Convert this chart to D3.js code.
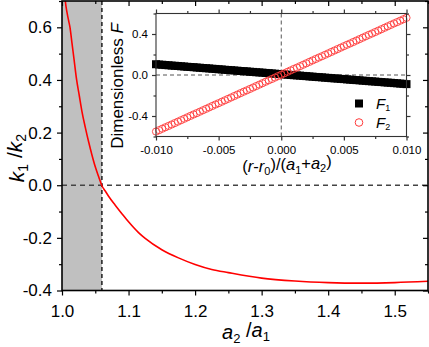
<!DOCTYPE html>
<html>
<head>
<meta charset="utf-8">
<script src="https://cdn.jsdelivr.net/npm/d3@7"></script>
<style>
  body { margin: 0; background: #fff; }
  svg { display: block; font-family: "Liberation Sans", Arial, sans-serif; }
</style>
</head>
<body>
<div id="chart"></div>
<script>
const width = 429;
const height = 347;

// main curve: k1/k2 against a2/a1
const ratio = [1.004, 1.006, 1.008, 1.010, 1.012, 1.015, 1.018, 1.022, 1.026, 1.030,
  1.035, 1.040, 1.045, 1.050, 1.055, 1.060, 1.065, 1.070, 1.080, 1.090, 1.100,
  1.115, 1.125, 1.150, 1.175, 1.200, 1.225, 1.250, 1.300, 1.350, 1.400, 1.450, 1.500, 1.550];
const kRatio = [0.72, 0.68, 0.65, 0.625, 0.60, 0.54, 0.48, 0.40, 0.34, 0.28,
  0.22, 0.165, 0.115, 0.07, 0.033, -0.002, -0.022, -0.042, -0.076, -0.108, -0.139,
  -0.180, -0.202, -0.245, -0.276, -0.301, -0.320, -0.332, -0.353, -0.364, -0.370, -0.372, -0.370, -0.365];
const shadeLimit = 1.06;

// inset: dimensionless forces against (r-r0)/(a1+a2)
const dr = [-0.01000, -0.00975, -0.00950, -0.00925, -0.00900, -0.00875, -0.00850, -0.00825, -0.00800, -0.00775,
  -0.00750, -0.00725, -0.00700, -0.00675, -0.00650, -0.00625, -0.00600, -0.00575, -0.00550, -0.00525,
  -0.00500, -0.00475, -0.00450, -0.00425, -0.00400, -0.00375, -0.00350, -0.00325, -0.00300, -0.00275,
  -0.00250, -0.00225, -0.00200, -0.00175, -0.00150, -0.00125, -0.00100, -0.00075, -0.00050, -0.00025,
  0.00000, 0.00025, 0.00050, 0.00075, 0.00100, 0.00125, 0.00150, 0.00175, 0.00200, 0.00225,
  0.00250, 0.00275, 0.00300, 0.00325, 0.00350, 0.00375, 0.00400, 0.00425, 0.00450, 0.00475,
  0.00500, 0.00525, 0.00550, 0.00575, 0.00600, 0.00625, 0.00650, 0.00675, 0.00700, 0.00725,
  0.00750, 0.00775, 0.00800, 0.00825, 0.00850, 0.00875, 0.00900, 0.00925, 0.00950, 0.00975, 0.01000];
const F1 = [0.105, 0.102, 0.100, 0.097, 0.095, 0.092, 0.090, 0.088, 0.085, 0.083,
  0.080, 0.078, 0.076, 0.073, 0.071, 0.068, 0.066, 0.064, 0.061, 0.059,
  0.056, 0.054, 0.051, 0.049, 0.047, 0.044, 0.042, 0.039, 0.037, 0.035,
  0.032, 0.030, 0.027, 0.025, 0.023, 0.020, 0.018, 0.015, 0.013, 0.010,
  0.008, 0.006, 0.003, 0.001, -0.002, -0.004, -0.006, -0.009, -0.011, -0.014,
  -0.016, -0.019, -0.021, -0.023, -0.026, -0.028, -0.031, -0.033, -0.035, -0.038,
  -0.040, -0.043, -0.045, -0.048, -0.050, -0.052, -0.055, -0.057, -0.060, -0.062,
  -0.064, -0.067, -0.069, -0.072, -0.074, -0.076, -0.079, -0.081, -0.084, -0.086, -0.089];
const F2 = [-0.552, -0.538, -0.524, -0.510, -0.497, -0.483, -0.469, -0.455, -0.441, -0.427,
  -0.413, -0.399, -0.385, -0.372, -0.358, -0.344, -0.330, -0.316, -0.302, -0.288,
  -0.275, -0.261, -0.247, -0.233, -0.219, -0.205, -0.191, -0.177, -0.163, -0.150,
  -0.136, -0.122, -0.108, -0.094, -0.080, -0.066, -0.052, -0.039, -0.025, -0.011,
  0.003, 0.017, 0.031, 0.045, 0.059, 0.072, 0.086, 0.100, 0.114, 0.128,
  0.142, 0.156, 0.170, 0.183, 0.197, 0.211, 0.225, 0.239, 0.253, 0.267,
  0.281, 0.295, 0.308, 0.322, 0.336, 0.350, 0.364, 0.378, 0.392, 0.405,
  0.419, 0.433, 0.447, 0.461, 0.475, 0.489, 0.503, 0.516, 0.530, 0.544, 0.558];

// tick values
const xMajor = [1.0, 1.1, 1.2, 1.3, 1.4, 1.5];
const xMinor = [1.05, 1.15, 1.25, 1.35, 1.45, 1.55];
const yMajor = [-0.4, -0.2, 0.0, 0.2, 0.4, 0.6];
const yMinor = [-0.3, -0.1, 0.1, 0.3, 0.5, 0.7];
const ixMajor = [-0.010, -0.005, 0.000, 0.005, 0.010];
const ixMinor = [-0.0075, -0.0025, 0.0025, 0.0075];
const iyMajor = [-0.4, 0.0, 0.4];
const iyMinor = [-0.6, -0.2, 0.2, 0.6];

const svg = d3.select("#chart").append("svg")
    .attr("width", width)
    .attr("height", height)
    .attr("viewBox", [0, 0, width, height]);

// main scales
const x = d3.scaleLinear().domain([1.0, 1.55]).range([62, 428]);
const y = d3.scaleLinear().domain([-0.4, 0.7]).range([290.5, 1]);

svg.append("clipPath").attr("id", "clip-main")
  .append("rect")
    .attr("x", x(1.0)).attr("y", y(0.7))
    .attr("width", x(1.55) - x(1.0)).attr("height", y(-0.4) - y(0.7));

// shaded band
svg.append("rect")
    .attr("x", x(1.0))
    .attr("y", y(0.7))
    .attr("width", x(shadeLimit) - x(1.0))
    .attr("height", y(-0.4) - y(0.7))
    .attr("fill", "#c0c0c0");

// zero line and the boundary of the band
svg.append("line")
    .attr("x1", x(1.0)).attr("x2", x(1.55))
    .attr("y1", y(0)).attr("y2", y(0))
    .attr("stroke", "#444").attr("stroke-width", 1.3)
    .attr("stroke-dasharray", "5,4");
svg.append("line")
    .attr("x1", x(shadeLimit)).attr("x2", x(shadeLimit))
    .attr("y1", y(0.7)).attr("y2", y(-0.4))
    .attr("stroke", "#000").attr("stroke-width", 1.3)
    .attr("stroke-dasharray", "4,3");

// red curve
const curve = d3.line()
    .x(d => x(d[0]))
    .y(d => y(d[1]))
    .curve(d3.curveMonotoneX);
svg.append("path")
    .datum(ratio.map((r, i) => [r, kRatio[i]]))
    .attr("clip-path", "url(#clip-main)")
    .attr("d", curve)
    .attr("fill", "none")
    .attr("stroke", "#ff0000")
    .attr("stroke-width", 1.6);

const fmt1 = d => d.toFixed(1);
const fmt3 = d => d.toFixed(3);

function styleAxis(g, fontSize, color) {
  g.select(".domain").remove();
  g.selectAll("line").attr("stroke", color).attr("stroke-width", 1.2);
  g.selectAll("text").attr("fill", "#000").style("font-size", fontSize + "px")
    .style("font-family", "'Liberation Sans', Arial, sans-serif");
}

// main axes
svg.append("g").attr("transform", `translate(0,${y(-0.4)})`)
    .call(d3.axisBottom(x).tickValues(xMajor).tickFormat(fmt1).tickSize(5).tickPadding(9))
    .call(g => styleAxis(g, 17, "#000"));
svg.append("g").attr("transform", `translate(0,${y(-0.4)})`)
    .call(d3.axisBottom(x).tickValues(xMinor).tickFormat("").tickSize(3))
    .call(g => styleAxis(g, 17, "#000"));
svg.append("g").attr("transform", `translate(${x(1.0)},0)`)
    .call(d3.axisLeft(y).tickValues(yMajor).tickFormat(fmt1).tickSize(5).tickPadding(5))
    .call(g => styleAxis(g, 17, "#000"));
svg.append("g").attr("transform", `translate(${x(1.0)},0)`)
    .call(d3.axisLeft(y).tickValues(yMinor).tickFormat("").tickSize(3))
    .call(g => styleAxis(g, 17, "#000"));
// mirrored ticks
svg.append("g").attr("transform", `translate(0,${y(0.7)})`)
    .call(d3.axisTop(x).tickValues(xMajor).tickFormat("").tickSize(-5))
    .call(g => styleAxis(g, 17, "#000"));
svg.append("g").attr("transform", `translate(0,${y(0.7)})`)
    .call(d3.axisTop(x).tickValues(xMinor).tickFormat("").tickSize(-3))
    .call(g => styleAxis(g, 17, "#000"));
svg.append("g").attr("transform", `translate(${x(1.55)},0)`)
    .call(d3.axisRight(y).tickValues(yMajor).tickFormat("").tickSize(-5))
    .call(g => styleAxis(g, 17, "#000"));
svg.append("g").attr("transform", `translate(${x(1.55)},0)`)
    .call(d3.axisRight(y).tickValues(yMinor).tickFormat("").tickSize(-3))
    .call(g => styleAxis(g, 17, "#000"));

// main frame
svg.append("rect")
    .attr("x", x(1.0)).attr("y", y(0.7))
    .attr("width", x(1.55) - x(1.0)).attr("height", y(-0.4) - y(0.7))
    .attr("fill", "none").attr("stroke", "#000").attr("stroke-width", 1.6);

// main axis titles
const xTitle = svg.append("text")
    .attr("x", 246).attr("y", 339)
    .attr("text-anchor", "middle")
    .style("font-size", "20px");
xTitle.append("tspan").style("font-style", "italic").text("a");
xTitle.append("tspan").attr("dy", "0.3em").style("font-size", "13px").text("2");
xTitle.append("tspan").attr("dy", "-0.3em").text(" /");
xTitle.append("tspan").style("font-style", "italic").text("a");
xTitle.append("tspan").attr("dy", "0.3em").style("font-size", "13px").text("1");

const yTitle = svg.append("text")
    .attr("transform", "translate(24,158) rotate(-90)")
    .attr("text-anchor", "middle")
    .style("font-size", "21px");
yTitle.append("tspan").style("font-style", "italic").text("k");
yTitle.append("tspan").attr("dy", "0.3em").style("font-size", "14px").text("1");
yTitle.append("tspan").attr("dy", "-0.3em").text(" /");
yTitle.append("tspan").style("font-style", "italic").text("k");
yTitle.append("tspan").attr("dy", "0.3em").style("font-size", "14px").text("2");

// ---------- inset ----------
const ix = d3.scaleLinear().domain([-0.01, 0.01]).range([156, 406.5]);
const iy = d3.scaleLinear().domain([-0.6, 0.6]).range([136.5, 13.5]);

const inset = svg.append("g");
inset.append("rect")
    .attr("x", ix(-0.01)).attr("y", iy(0.6))
    .attr("width", ix(0.01) - ix(-0.01)).attr("height", iy(-0.6) - iy(0.6))
    .attr("fill", "#fff");

inset.append("line")
    .attr("x1", ix(-0.01)).attr("x2", ix(0.01))
    .attr("y1", iy(0)).attr("y2", iy(0))
    .attr("stroke", "#555").attr("stroke-width", 1)
    .attr("stroke-dasharray", "4,3");
inset.append("line")
    .attr("x1", ix(0)).attr("x2", ix(0))
    .attr("y1", iy(0.6)).attr("y2", iy(-0.6))
    .attr("stroke", "#555").attr("stroke-width", 1)
    .attr("stroke-dasharray", "4,3");

const sq = 8;
inset.append("g").selectAll("rect")
    .data(dr.map((d, i) => [d, F1[i]]))
    .join("rect")
    .attr("x", d => ix(d[0]) - sq / 2)
    .attr("y", d => iy(d[1]) - sq / 2)
    .attr("width", sq).attr("height", sq)
    .attr("fill", "#000");

inset.append("g").selectAll("circle")
    .data(dr.map((d, i) => [d, F2[i]]))
    .join("circle")
    .attr("cx", d => ix(d[0]))
    .attr("cy", d => iy(d[1]))
    .attr("r", 3.6)
    .attr("fill", "none")
    .attr("stroke", "#ff3b3b")
    .attr("stroke-width", 0.9);

// inset axes
inset.append("g").attr("transform", `translate(0,${iy(-0.6)})`)
    .call(d3.axisBottom(ix).tickValues(ixMajor).tickFormat(fmt3).tickSize(4).tickPadding(5))
    .call(g => styleAxis(g, 11.5, "#333"));
inset.append("g").attr("transform", `translate(0,${iy(-0.6)})`)
    .call(d3.axisBottom(ix).tickValues(ixMinor).tickFormat("").tickSize(2.5))
    .call(g => styleAxis(g, 11.5, "#333"));
inset.append("g").attr("transform", `translate(${ix(-0.01)},0)`)
    .call(d3.axisLeft(iy).tickValues(iyMajor).tickFormat(fmt1).tickSize(4).tickPadding(4))
    .call(g => styleAxis(g, 11.5, "#333"));
inset.append("g").attr("transform", `translate(${ix(-0.01)},0)`)
    .call(d3.axisLeft(iy).tickValues(iyMinor).tickFormat("").tickSize(2.5))
    .call(g => styleAxis(g, 11.5, "#333"));
inset.append("g").attr("transform", `translate(0,${iy(0.6)})`)
    .call(d3.axisTop(ix).tickValues(ixMajor).tickFormat("").tickSize(4))
    .call(g => styleAxis(g, 11.5, "#333"));
inset.append("g").attr("transform", `translate(0,${iy(0.6)})`)
    .call(d3.axisTop(ix).tickValues(ixMinor).tickFormat("").tickSize(2.5))
    .call(g => styleAxis(g, 11.5, "#333"));
inset.append("g").attr("transform", `translate(${ix(0.01)},0)`)
    .call(d3.axisRight(iy).tickValues(iyMajor).tickFormat("").tickSize(4))
    .call(g => styleAxis(g, 11.5, "#333"));
inset.append("g").attr("transform", `translate(${ix(0.01)},0)`)
    .call(d3.axisRight(iy).tickValues(iyMinor).tickFormat("").tickSize(2.5))
    .call(g => styleAxis(g, 11.5, "#333"));

inset.append("rect")
    .attr("x", ix(-0.01)).attr("y", iy(0.6))
    .attr("width", ix(0.01) - ix(-0.01)).attr("height", iy(-0.6) - iy(0.6))
    .attr("fill", "none").attr("stroke", "#333").attr("stroke-width", 1.1);

// inset titles
const ixTitle = inset.append("text")
    .attr("x", 287).attr("y", 172)
    .attr("text-anchor", "middle")
    .style("font-size", "16.5px");
ixTitle.append("tspan").text("(");
ixTitle.append("tspan").style("font-style", "italic").text("r");
ixTitle.append("tspan").text("-");
ixTitle.append("tspan").style("font-style", "italic").text("r");
ixTitle.append("tspan").attr("dy", "0.3em").style("font-size", "11px").text("0");
ixTitle.append("tspan").attr("dy", "-0.3em").text(")/(");
ixTitle.append("tspan").style("font-style", "italic").text("a");
ixTitle.append("tspan").attr("dy", "0.3em").style("font-size", "11px").text("1");
ixTitle.append("tspan").attr("dy", "-0.3em").text("+");
ixTitle.append("tspan").style("font-style", "italic").text("a");
ixTitle.append("tspan").attr("dy", "0.3em").style("font-size", "11px").text("2");
ixTitle.append("tspan").attr("dy", "-0.3em").text(")");

const iyTitle = inset.append("text")
    .attr("transform", "translate(123,86) rotate(-90)")
    .attr("text-anchor", "middle")
    .style("font-size", "17px");
iyTitle.append("tspan").text("Dimensionless ");
iyTitle.append("tspan").style("font-style", "italic").text("F");

// legend
const legend = inset.append("g");
legend.append("rect")
    .attr("x", 355).attr("y", 99.5)
    .attr("width", 8).attr("height", 8)
    .attr("fill", "#000");
legend.append("circle")
    .attr("cx", 359).attr("cy", 122.5).attr("r", 3.8)
    .attr("fill", "none").attr("stroke", "#ff3b3b").attr("stroke-width", 1);
[["1", 108.5], ["2", 127.5]].forEach(([s, yy]) => {
  const t = legend.append("text").attr("x", 376).attr("y", yy).style("font-size", "15px");
  t.append("tspan").style("font-style", "italic").text("F");
  t.append("tspan").attr("dy", "0.3em").style("font-size", "9px").text(s);
});
</script>
</body>
</html>
